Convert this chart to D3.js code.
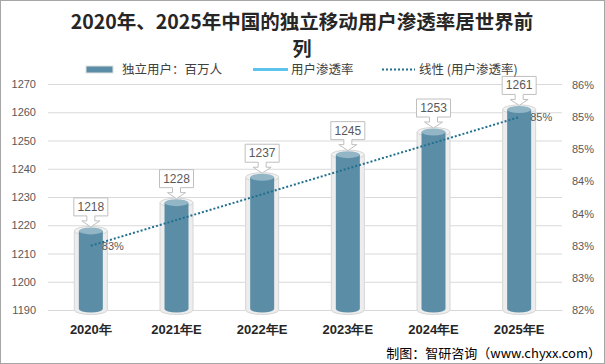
<!DOCTYPE html>
<html><head><meta charset="utf-8">
<script src="https://cdn.jsdelivr.net/npm/d3@7"></script>
<style>
html,body{margin:0;padding:0;background:#fff;}
svg{display:block;font-family:"Noto Sans CJK SC","Noto Sans",sans-serif;}
</style></head>
<body>
<svg id="chart" width="605" height="364"></svg>
<script>
// ---- data ----
const categories = ["2020年","2021年E","2022年E","2023年E","2024年E","2025年E"];
const users = [1218,1228,1237,1245,1253,1261];
const penetration = [83,null,null,null,null,85];
const leftTicks = [1190,1200,1210,1220,1230,1240,1250,1260,1270];
const rightTicks = [82,82.5,83,83.5,84,84.5,85,85.5];
const titleLines = ["2020年、2025年中国的独立移动用户渗透率居世界前","列"];
const legendLabels = ["独立用户：百万人","用户渗透率","线性 (用户渗透率)"];
const sourceText = "制图：智研咨询（www.chyxx.com）";

const svg = d3.select("#chart");
const W = 605, H = 364;
const plot = {left:48, right:562, top:84, bottom:310};

svg.append("rect").attr("x",0.5).attr("y",0.5).attr("width",W-1).attr("height",H-1)
  .attr("fill","#fff").attr("stroke","#a6a6a6");

const x = d3.scaleBand().domain(categories).range([plot.left, plot.right]);
const yL = d3.scaleLinear().domain([1190,1270]).range([plot.bottom, plot.top]);
const yR = d3.scaleLinear().domain([82,85.5]).range([plot.bottom, 85]);

// gridlines
const grid = svg.append("g").attr("transform",`translate(${plot.left},0)`)
  .call(d3.axisLeft(yL).tickValues(leftTicks).tickSize(-(plot.right-plot.left)).tickFormat(""));
grid.select(".domain").remove();
grid.selectAll("line").attr("stroke","#d9d9d9");

// left axis labels
const la = svg.append("g").attr("transform",`translate(${plot.left},0)`)
  .call(d3.axisLeft(yL).tickValues(leftTicks).tickSize(0).tickPadding(12).tickFormat(d3.format("d")));
la.select(".domain").remove();
la.selectAll("text").attr("fill","#595959").style("font-size","11px").style("font-family","'Liberation Sans','DejaVu Sans',sans-serif");

// right axis labels
const ra = svg.append("g").attr("transform",`translate(${plot.right},0)`)
  .call(d3.axisRight(yR).tickValues(rightTicks).tickSize(0).tickPadding(10)
    .tickFormat(d => Math.round(d) + "%"));
ra.select(".domain").remove();
ra.selectAll("text").attr("fill","#595959").style("font-size","11px").style("font-family","'Liberation Sans','DejaVu Sans',sans-serif");

// x axis labels
const xa = svg.append("g").attr("transform",`translate(0,${plot.bottom})`)
  .call(d3.axisBottom(x).tickSize(0).tickPadding(15));
xa.select(".domain").attr("stroke","#d9d9d9");
xa.selectAll("text").attr("fill","#262626").style("font-size","13px").style("font-weight","bold");

// bars (cylinders)
const barW = 24, shellW = 33, ry = 3.5;
const bars = svg.append("g");
categories.forEach((c,i) => {
  const cx = x(c) + x.bandwidth()/2;
  const top = yL(users[i]);
  const g = bars.append("g");
  // outer glass shell
  g.append("path")
    .attr("d", `M${cx-shellW/2},${top} L${cx-shellW/2},${plot.bottom} A${shellW/2},${ry+1} 0 0 0 ${cx+shellW/2},${plot.bottom} L${cx+shellW/2},${top} Z`)
    .attr("fill","#ededed").attr("stroke","#d6d6d6").attr("stroke-width",1);
  g.append("ellipse").attr("cx",cx).attr("cy",top).attr("rx",shellW/2).attr("ry",ry+1)
    .attr("fill","#f2f2f2").attr("stroke","#d6d6d6");
  // inner bar
  g.append("path")
    .attr("d", `M${cx-barW/2},${top} L${cx-barW/2},${plot.bottom-1} A${barW/2},${ry} 0 0 0 ${cx+barW/2},${plot.bottom-1} L${cx+barW/2},${top} Z`)
    .attr("fill","#5b8ea6");
  g.append("ellipse").attr("cx",cx).attr("cy",top).attr("rx",barW/2).attr("ry",ry)
    .attr("fill","#93b6c7");
  // callout label
  const bw = 34, bh = 18;
  const tip = top - 4, boxBottom = top - 15, boxTop = boxBottom - bh;
  const sw = 4, hw = 9, neck = boxBottom + 5;
  g.append("path")
    .attr("d", `M${cx-bw/2},${boxTop} H${cx+bw/2} V${boxBottom} H${cx+sw} V${neck} H${cx+hw} L${cx},${tip} L${cx-hw},${neck} H${cx-sw} V${boxBottom} H${cx-bw/2} Z`)
    .attr("fill","#fff").attr("stroke","#bfbfbf").attr("stroke-width",1);
  g.append("text").attr("x",cx).attr("y",boxTop + bh/2 + 4).attr("text-anchor","middle")
    .attr("fill","#595959").style("font-size","12px")
    .style("font-family","'Liberation Sans','DejaVu Sans',sans-serif")
    .text(users[i]);
});

// linear trendline of penetration
const pts = penetration.map((v,i)=>({i,v})).filter(d=>d.v!=null);
const mx = d3.mean(pts,d=>d.i), my = d3.mean(pts,d=>d.v);
const slope = d3.sum(pts,d=>(d.i-mx)*(d.v-my))/d3.sum(pts,d=>(d.i-mx)*(d.i-mx));
const icpt = my - slope*mx;
const trend = categories.map((c,i)=>({c, v: icpt + slope*i}));
svg.append("path")
  .attr("d", d3.line().x(d=>x(d.c)+x.bandwidth()/2).y(d=>yR(d.v))(trend))
  .attr("fill","none").attr("stroke","#1f6f8f").attr("stroke-width",2).attr("stroke-dasharray","2,2");

// penetration labels
categories.forEach((c,i)=>{
  if (penetration[i]==null) return;
  svg.append("text").attr("x",x(c)+x.bandwidth()/2+11).attr("y",yR(penetration[i])+4)
    .attr("fill","#595959").style("font-size","11px")
    .style("font-family","'Liberation Sans','DejaVu Sans',sans-serif")
    .text(penetration[i]+"%");
});

// title
svg.append("text").attr("x",302).attr("y",29).attr("text-anchor","middle")
  .attr("fill","#262626").style("font-size","19.5px").style("font-weight","bold").text(titleLines[0]);
svg.append("text").attr("x",302).attr("y",56).attr("text-anchor","middle")
  .attr("fill","#262626").style("font-size","19px").style("font-weight","bold").text(titleLines[1]);

// legend
const lg = svg.append("g").style("font-size","12.5px").attr("fill","#404040");
lg.append("rect").attr("x",86).attr("y",66).attr("width",27).attr("height",7).attr("fill","#5b8ea6").attr("stroke","#e0e0e0");
lg.append("text").attr("x",122).attr("y",74).text(legendLabels[0]);
lg.append("line").attr("x1",253).attr("x2",288).attr("y1",69.5).attr("y2",69.5).attr("stroke","#5bc3ee").attr("stroke-width",3);
lg.append("text").attr("x",291).attr("y",74).text(legendLabels[1]);
lg.append("line").attr("x1",382).attr("x2",415).attr("y1",69.5).attr("y2",69.5).attr("stroke","#1f6f8f").attr("stroke-width",2).attr("stroke-dasharray","2,2");
lg.append("text").attr("x",419).attr("y",74).text(legendLabels[2]);

// source
svg.append("text").attr("x",601).attr("y",358).attr("text-anchor","end")
  .attr("fill","#000").style("font-size","13px").text(sourceText);
</script>
</body></html>
